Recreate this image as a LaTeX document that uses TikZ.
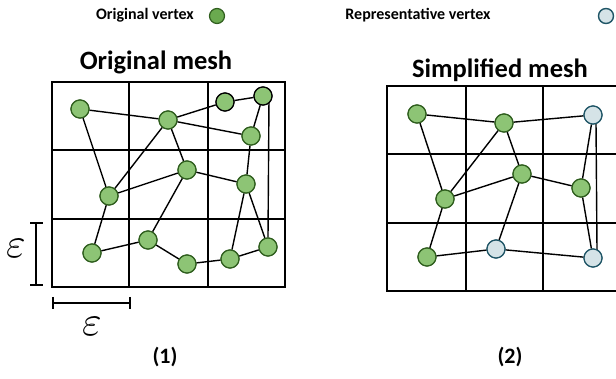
\documentclass[tikz,border=0pt]{standalone}
\usepackage{graphicx}
\usepackage{fontspec}
\setmainfont{Carlito}
\definecolor{vgreen}{HTML}{8DC475}
\definecolor{vgreenb}{HTML}{2F5E1E}
\definecolor{lgreen}{HTML}{6AAA4F}
\definecolor{vblue}{HTML}{D5E3E7}
\definecolor{vblueb}{HTML}{1F5566}
\begin{document}
\begin{tikzpicture}[x=1pt,y=-1pt,
  gridline/.style={line width=1.6pt,black},
  edge/.style={line width=1.4pt,black},
  ov/.style={circle,fill=vgreen,draw=vgreenb,line width=1.2pt,minimum size=18pt,inner sep=0pt},
  ovd/.style={ov,draw=black},
  rv/.style={circle,fill=vblue,draw=vblueb,line width=1.2pt,minimum size=18pt,inner sep=0pt},
  lbl/.style={font=\bfseries\fontsize{16}{19}\selectfont,anchor=center},
  head/.style={font=\bfseries\fontsize{26.5}{30}\selectfont,anchor=center},
  num/.style={font=\bfseries\fontsize{22}{26}\selectfont,anchor=center},
  eps/.style={inner sep=0pt}]
\useasboundingbox (0,0) rectangle (616,379);
% legend
\node[lbl] (lt1) at (145,15) {Original vertex};
\node[circle,fill=lgreen,draw=vgreenb,line width=1.2pt,minimum size=15pt,inner sep=0pt] (lc1) at (217,16) {};
\node[lbl] (lt2) at (418,15) {Representative vertex};
\node[circle,fill=vblue,draw=vblueb,line width=1.4pt,minimum size=15pt,inner sep=0pt] (lc2) at (606,16) {};
% headings
\node[head] (h1) at (156,62) {Original mesh};
\node[head] (h2) at (500,70) {Simplified mesh};
\node[num] (n1) at (165,357) {(1)};
\node[num] (n2) at (510,357) {(2)};
% left grid
\draw[gridline] (52,82) rectangle (285,287);
\draw[gridline] (129,82) -- (129,287) (208,82) -- (208,287)
  (52,150) -- (285,150) (52,219) -- (285,219);
% right grid
\draw[gridline] (387,86) rectangle (622,291);
\draw[gridline] (466,86) -- (466,291) (543,86) -- (543,291)
  (387,154) -- (622,154) (387,223) -- (622,223);
% epsilon markers
\coordinate (e1a) at (36,223); \coordinate (e1b) at (36,285);
\draw[line width=1.6pt] (e1a) -- (e1b) (30,223) -- (43,223) (30,285) -- (43,285);
\coordinate (e2a) at (53,303); \coordinate (e2b) at (130,303);
\draw[line width=1.6pt] (e2a) -- (e2b) (53,297) -- (53,309) (130,297) -- (130,309);
\node[eps] (eps1) at (16,248) {\scalebox{4.2}{$\varepsilon$}};
\node[eps] (eps2) at (92,326) {\scalebox{4.2}{$\varepsilon$}};
% left vertices
\node[ov] (A) at (80,109) {};
\node[ov] (B) at (168,120) {};
\node[ovd] (C) at (225,102) {};
\node[ovd] (D) at (263,96) {};
\node[ov] (E) at (251,136) {};
\node[ov] (F) at (187,170) {};
\node[ov] (G) at (246,184) {};
\node[ov] (H) at (109,196) {};
\node[ov] (I) at (148,240) {};
\node[ov] (J) at (92,253) {};
\node[ov] (K) at (187,264) {};
\node[ov] (L) at (230,259) {};
\node[ov] (M) at (268,247) {};
\draw[edge] (A) -- (B) (B) -- (E) (B) -- (C) (C) -- (D) (D) -- (E)
  (A) -- (H) (H) -- (B) (H) -- (F) (B) -- (F) (F) -- (G) (E) -- (G)
  (F) -- (I) (H) -- (J) (J) -- (I) (I) -- (K) (K) -- (L) (L) -- (M)
  (G) -- (L) (G) -- (M);
\coordinate (Dd) at (269,98);
\draw[edge] (Dd) -- (M.north);
% right vertices
\node[ov] (a) at (417,114) {};
\node[ov] (b) at (504,123) {};
\node[rv] (c) at (593,115) {};
\node[ov] (f) at (522,174) {};
\node[ov] (g) at (581,188) {};
\node[ov] (h) at (445,199) {};
\node[ov] (j) at (427,257) {};
\node[rv] (i) at (496,249) {};
\node[rv] (m) at (593,258) {};
\draw[edge] (a) -- (b) (b) -- (c) (a) -- (h) (h) -- (b) (h) -- (f)
  (b) -- (f) (f) -- (g) (c) -- (g) (g) -- (m) (f) -- (i) (h) -- (j)
  (j) -- (i) (i) -- (m);
\coordinate (cc) at (596,122);
\coordinate (mm) at (597,250);
\draw[edge] (cc) -- (mm);
% redraw nodes on top
\foreach \n/\s in {A/ov,B/ov,C/ovd,D/ovd,E/ov,F/ov,G/ov,H/ov,I/ov,J/ov,K/ov,L/ov,M/ov,a/ov,b/ov,f/ov,g/ov,h/ov,j/ov,c/rv,i/rv,m/rv}
  \node[\s] at (\n.center) {};
\end{tikzpicture}
\end{document}
